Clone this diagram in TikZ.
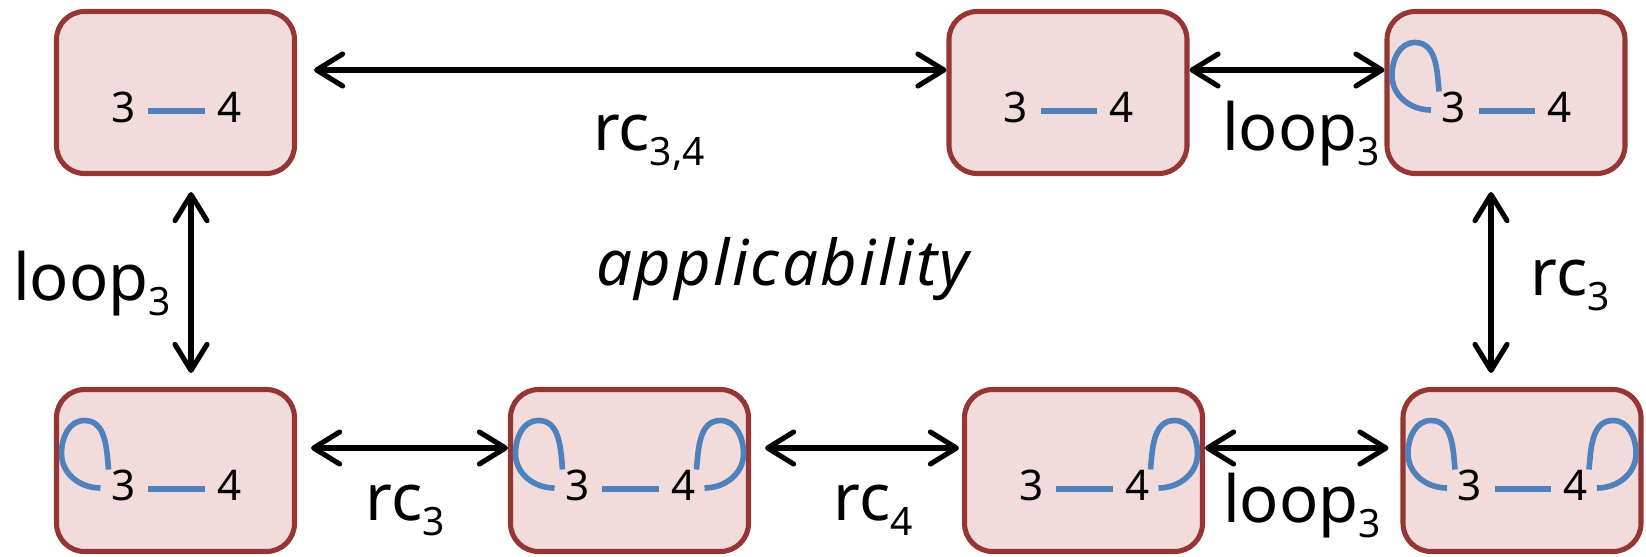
\documentclass[tikz,border=0pt]{standalone}
\usepackage{fontspec}
\setmainfont{Noto Sans}
\usetikzlibrary{arrows.meta}

\definecolor{boxred}{RGB}{150,54,52}
\definecolor{boxfill}{RGB}{242,220,219}
\definecolor{edgeblue}{RGB}{79,129,189}

% rule name with a lowered subscript
\newcommand{\lbl}[2]{#1\raisebox{-4.3pt}{\fontsize{11.1}{13}\selectfont #2}}

\begin{document}
\begin{tikzpicture}[
    state/.style={draw=boxred, fill=boxfill, line width=1.45pt, rounded corners=8pt,
      minimum width=2.38cm, minimum height=1.62cm, inner sep=0pt},
    num/.style={font=\fontsize{12}{14}\selectfont, inner xsep=1.2mm, inner ysep=0pt},
    bond/.style={draw=edgeblue, line width=1.6pt},
    selfloop/.style={draw=edgeblue, line width=1.6pt},
    conn/.style={{Straight Barb[round,length=2.6mm,width=3.2mm]}-{Straight Barb[round,length=2.6mm,width=3.2mm]},
      line width=1.45pt, line cap=round},
    rule/.style={font=\fontsize{18.5}{22}\selectfont, inner sep=0pt, anchor=base}
  ]
  \useasboundingbox (0,0) rectangle (16.46,5.56);

  % --- States ---
  \node[state] (A) at (1.755,4.635) {};
  \node[state] (B) at (10.68,4.635) {};
  \node[state] (C) at (15.06,4.635) {};
  \node[state] (D) at (1.755,0.855) {};
  \node[state] (E) at (6.295,0.855) {};
  \node[state] (F) at (10.835,0.855) {};
  \node[state] (G) at (15.22,0.855) {};

  % vertices 3 and 4 with their edge
  \foreach \b in {A,B,C,D,E,F,G} {
    \node[num] (\b3) at ([shift={(-0.52,-0.145)}]\b.center) {3};
    \node[num] (\b4) at ([shift={(0.54,-0.145)}]\b.center) {4};
    \draw[bond] ([yshift=-0.4mm]\b3.east) -- ([yshift=-0.4mm]\b4.west);
  }

  % loops on 3
  \foreach \b in {C,D,E,G}
    \draw[selfloop, shift={(\b.center)}] (-0.75,-0.175) to[out=180,in=270] (-1.14,0.17)
      to[out=90,in=180] (-0.91,0.50) to[out=0,in=95] (-0.67,0.01);
  % loops on 4
  \foreach \b in {E,F,G}
    \draw[selfloop, shift={(\b.center)}, xscale=-1] (-0.75,-0.175) to[out=180,in=270] (-1.14,0.17)
      to[out=90,in=180] (-0.91,0.50) to[out=0,in=95] (-0.67,0.01);

  % --- Transitions ---
  \draw[conn, shorten <=1.7mm] ([yshift=2.25mm]A.east) -- ([yshift=2.25mm]B.west);
  \draw[conn] ([yshift=2.25mm]B.east) -- ([yshift=2.25mm]C.west);
  \draw[conn, shorten <=1.6mm, shorten >=1.4mm] ([xshift=1.55mm]A.south) -- ([xshift=1.55mm]D.north);
  \draw[conn, shorten <=1.6mm, shorten >=1.4mm] ([xshift=-1.5mm]C.south) -- ([xshift=-1.5mm]C.south |- G.north);
  \draw[conn, shorten <=1.4mm] ([yshift=2.25mm]D.east) -- ([yshift=2.25mm]E.west);
  \draw[conn, shorten <=1.4mm, shorten >=0.3mm] ([yshift=2.25mm]E.east) -- ([yshift=2.25mm]F.west);
  \draw[conn, shorten >=1.2mm] ([yshift=2.25mm]F.east) -- ([yshift=2.25mm]G.west);

  % --- Labels ---
  \node[rule] (rcAB) at (6.49,4.06) {\lbl{rc}{3,4}};
  \node[rule] (loopBC) at (13.01,4.06) {\lbl{loop}{3}};
  \node[rule] (loopAD) at (0.92,2.56) {\lbl{loop}{3}};
  \node[rule] (rcCG) at (15.70,2.61) {\lbl{rc}{3}};
  \node[rule] (rcDE) at (4.05,0.36) {\lbl{rc}{3}};
  \node[rule] (rcEF) at (8.73,0.36) {\lbl{rc}{4}};
  \node[rule] (loopFG) at (13.02,0.34) {\lbl{loop}{3}};
  \node[rule, font=\fontsize{18}{21}\selectfont\itshape\addfontfeature{LetterSpace=4}] (appl) at (7.83,2.71) {applicability};
\end{tikzpicture}
\end{document}
